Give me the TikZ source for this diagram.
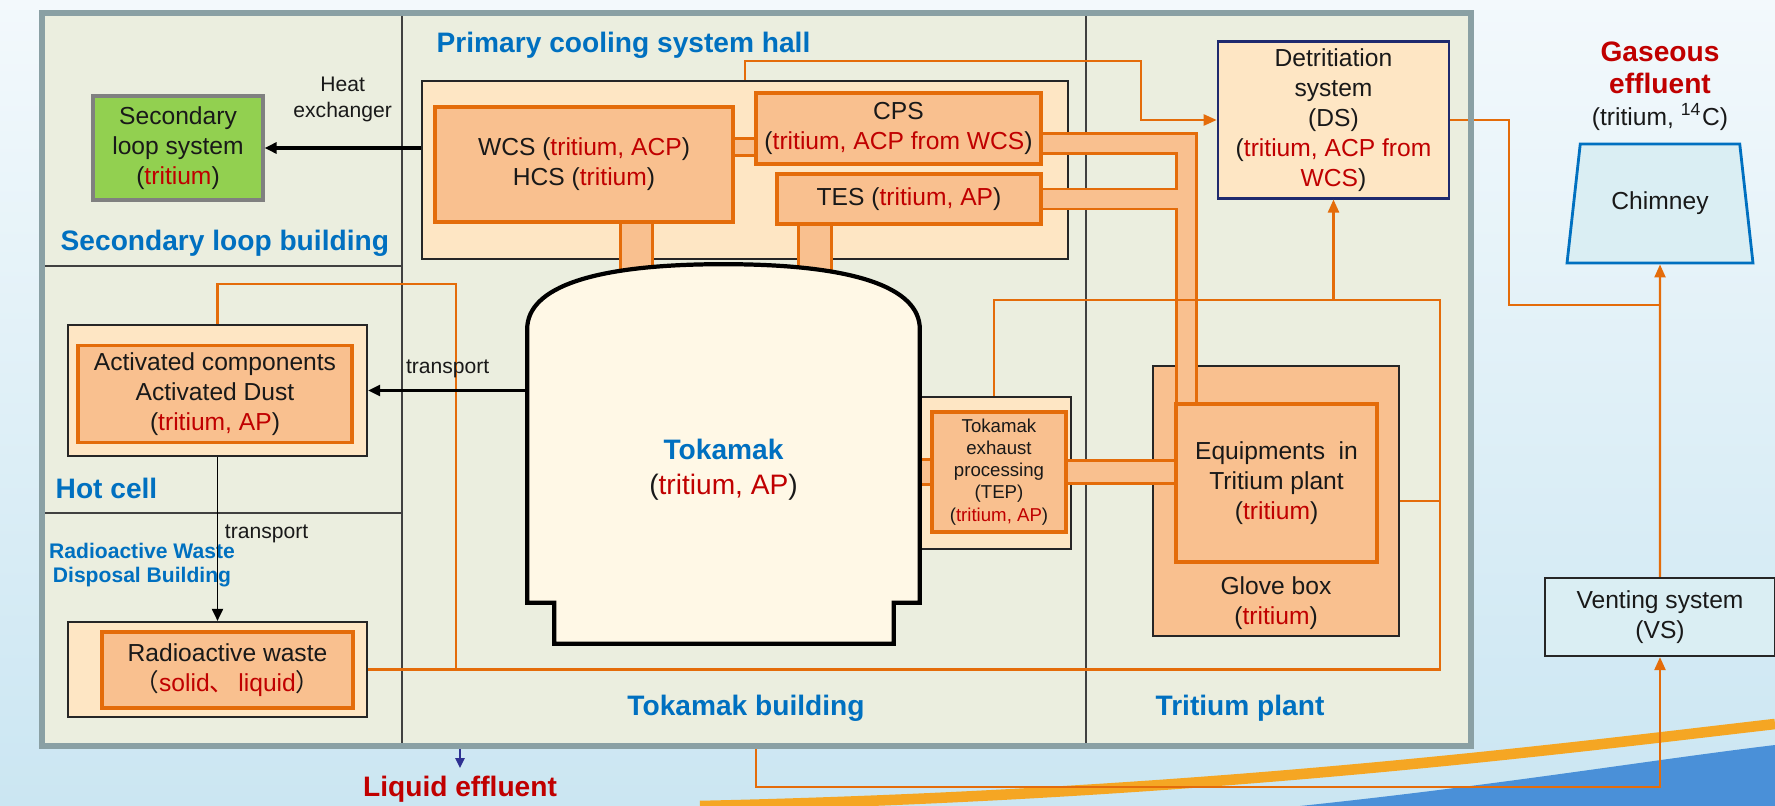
\documentclass[tikz,border=0pt]{standalone}
\usepackage{fontspec}
\setmainfont{Liberation Sans}
\newfontfamily\cjk{Noto Sans CJK SC}
\usepackage{xcolor}
\usepackage{tikz}
\usetikzlibrary{shapes.geometric, arrows.meta, positioning, calc}

\definecolor{zoneblue}{HTML}{0070C0}
\definecolor{tred}{HTML}{C00000}
\definecolor{halfill}{HTML}{EBEEDF}
\definecolor{rimgray}{HTML}{8AA0A4}
\definecolor{peach}{HTML}{FEE6C4}
\definecolor{orfill}{HTML}{F9C08F}
\definecolor{orline}{HTML}{E46C0A}
\definecolor{cream}{HTML}{FFF8E6}
\definecolor{leaf}{HTML}{92D050}
\definecolor{skyfill}{HTML}{DAEEF3}
\definecolor{dsnavy}{HTML}{1F2A6E}
\definecolor{liqnavy}{HTML}{2E3192}
\definecolor{skytop}{HTML}{F3F9FC}
\definecolor{skybot}{HTML}{CBE6F2}
\definecolor{swblue}{HTML}{4A90D8}
\definecolor{swor}{HTML}{F5A623}

\pgfdeclarelayer{bg}
\pgfdeclarelayer{pipes}
\pgfsetlayers{bg,pipes,main}

\newcommand{\rd}[1]{\textcolor{tred}{#1}}

\begin{document}
\begin{tikzpicture}[
    x=0.01cm, y=-0.01cm,
    every node/.style={font=\fontsize{7pt}{8.5pt}\selectfont, text=black!90, inner sep=2pt},
    zone/.style={font=\fontsize{8pt}{9.5pt}\selectfont\bfseries, text=zoneblue, inner sep=0pt},
    note/.style={font=\fontsize{6pt}{7.4pt}\selectfont, align=center, inner sep=1pt},
    hallbox/.style={rectangle, draw=black!85, line width=0.6pt, fill=peach},
    orbox/.style={rectangle, draw=orline, line width=1pt, fill=orfill, align=center},
    divider/.style={draw=black!75, line width=0.55pt},
    feed/.style={draw=orline, line width=0.65pt},
    feedarrow/.style={feed, -{Triangle[length=0.13cm, width=0.11cm]}},
    movearrow/.style={draw=black, line width=0.7pt, -{Triangle[length=0.12cm, width=0.11cm]}},
    pipe/.style={draw=orline, line width=0.8pt, double=orfill, double distance=#1},
    pipeedge/.style={draw=orline, line width=#1},
    pipecore/.style={draw=orfill, line width=#1}
]
    \useasboundingbox (0,0) rectangle (1775,806);

    % buildings
    \begin{pgfonlayer}{bg}
        \shade[top color=skytop, bottom color=skybot] (0,0) rectangle (1775,806);
        \fill[swblue] (1300,806) .. controls (1500,785) and (1650,760) .. (1775,745) -- (1775,806) -- cycle;
        \draw[swor, line width=3pt] (700,806) .. controls (1200,795) and (1550,750) .. (1775,724);
        \node[fill=halfill, minimum width=14.27cm, minimum height=7.31cm, inner sep=0pt] (frame) at (756.5,379.5) {};
        \draw[divider] (402,14) -- (402,745);
        \draw[divider] (1086,14) -- (1086,745);
        \draw[divider] (43,266) -- (402,266);
        \draw[divider] (43,513) -- (402,513);
        \node[hallbox, minimum width=6.46cm, minimum height=1.78cm] (hall) at (745,170) {};
        \node[hallbox, minimum width=1.54cm, minimum height=1.52cm] (tepbox) at (994,473) {};
        \node[orbox, draw=black!85, line width=0.6pt, minimum width=2.46cm, minimum height=2.70cm] (gb) at (1276,501) {};
    \end{pgfonlayer}

    \node[zone, anchor=west] (lblhall) at (436,45) {Primary cooling system hall};
    \node[zone, anchor=west] (lblsec) at (60,243) {Secondary loop building};
    \node[zone, anchor=west] (lblhot) at (55,488) {Hot cell};
    \node[zone, font=\fontsize{6pt}{6.9pt}\selectfont\bfseries, align=center] (lblrw) at (142,565) {Radioactive Waste\\Disposal Building};
    \node[zone] (lbltok) at (746,708) {Tokamak building};
    \node[zone] (lbltp) at (1240,708) {Tritium plant};

    % systems
    \node[rectangle, draw=black!50, line width=0.9pt, fill=leaf, align=center, minimum width=1.70cm, minimum height=1.04cm] (sec) at (178,148) {Secondary\\loop system\\(\rd{tritium})};
    \node[orbox, minimum width=2.98cm, minimum height=1.15cm] (wcs) at (584,164.5) {WCS (\rd{tritium, ACP})\\HCS (\rd{tritium})};
    \node[orbox, minimum width=2.85cm, minimum height=0.71cm] (cps) at (898.5,128.5) {CPS\\(\rd{tritium, ACP from WCS})};
    \node[orbox, minimum width=2.64cm, minimum height=0.50cm] (tes) at (909,199) {TES (\rd{tritium, AP})};
    \node[rectangle, draw=dsnavy, line width=0.7pt, fill=peach, align=center, minimum width=2.31cm, minimum height=1.56cm] (ds) at (1333.5,120) {Detritiation\\system\\(DS)\\(\rd{tritium, ACP from}\\\rd{WCS})};
    \node[trapezium, trapezium angle=76, trapezium stretches=true, draw=zoneblue, line width=0.8pt, fill=skyfill, minimum width=1.86cm, minimum height=1.19cm] (chim) at (1660,203.5) {Chimney};
    \node[align=center, font=\fontsize{8pt}{9.2pt}\selectfont, above=0.04cm of chim.north] (gas) {{\bfseries\color{tred}Gaseous}\\{\bfseries\color{tred}effluent}\\{\fontsize{7pt}{9.2pt}\selectfont(tritium, \textsuperscript{14}C)}};
    \node[rectangle, draw=black!85, line width=0.6pt, fill=skyfill, align=center, minimum width=2.30cm, minimum height=0.78cm] (vs) at (1660,617) {Venting system\\(VS)};

    \node[hallbox, minimum width=2.99cm, minimum height=1.31cm] (act) at (217.5,390.5) {};
    \node[orbox, minimum width=2.74cm, minimum height=0.96cm] (actin) at (215,394) {Activated components\\Activated Dust\\(\rd{tritium, AP})};
    \node[hallbox, minimum width=2.99cm, minimum height=0.95cm] (waste) at (217.5,669.5) {};
    \node[orbox, minimum width=2.51cm, minimum height=0.76cm] (wastein) at (227.5,670) {Radioactive waste\\{\cjk （}\rd{solid{\cjk 、}\,liquid}{\cjk ）}};

    \node[minimum width=3.91cm, minimum height=2.64cm, inner sep=0pt] (tok) at (723.5,470) {};
    \node[orbox, font=\fontsize{5.3pt}{6.3pt}\selectfont, minimum width=1.34cm, minimum height=1.20cm] (tep) at (999,472) {Tokamak\\exhaust\\processing\\(TEP)\\(\rd{tritium, AP})};
    \node[orbox, minimum width=2.01cm, minimum height=1.58cm] (eq) at (1276.5,483) {Equipments\ \ in\\Tritium plant\\(\rd{tritium})};
    \node[align=center, above=0cm of gb.south] (gbtext) {Glove box\\(\rd{tritium})};

    % pipes
    \begin{pgfonlayer}{pipes}
        \coordinate (wcsdown) at ([xshift=0.525cm]wcs.south);
        \coordinate (tesdown) at ([xshift=-0.94cm]tes.south);
        \coordinate (cpsin) at ([yshift=-0.185cm]cps.west);
        \coordinate (cpsout) at ([yshift=-0.15cm]cps.east);
        \coordinate (drop) at ([xshift=0.125cm]eq.north west);
        \draw[pipe=8.4pt] (wcsdown) -- (wcsdown |- tok.north);
        \draw[pipe=8.6pt] (tesdown) -- (tesdown |- tok.north);
        \draw[pipe=4.1pt] (cpsin) -- (cpsin -| wcs.east);
        \draw[pipeedge=6.5pt] (cpsout) -| (drop);
        \draw[pipeedge=6.5pt] (tes.east) -- (tes.east -| drop);
        \draw[pipecore=4.9pt] (cpsout) -| (drop);
        \draw[pipecore=4.9pt] (tes.east) -- (tes.east -| drop);
        \draw[pipe=5.8pt] (tep.east) -- (tep.east -| eq.west);
        \draw[pipe=6.1pt] (tok.east |- tep.west) -- (tep.west);
    \end{pgfonlayer}

    % tokamak vessel
    \draw[fill=cream, draw=black, line width=1.2pt] (tok.south west) -- ([yshift=0.08cm]tok.north west)
        .. controls ([yshift=0.5cm]tok.north west) and ([xshift=-1.3cm,yshift=0.73cm]tok.north) .. ([yshift=0.73cm]tok.north)
        .. controls ([xshift=1.3cm,yshift=0.73cm]tok.north) and ([yshift=0.5cm]tok.north east) .. ([yshift=0.08cm]tok.north east)
        -- (tok.south east) -- ([xshift=-0.26cm]tok.south east) -- ([xshift=-0.26cm,yshift=-0.41cm]tok.south east)
        -- ([xshift=0.27cm,yshift=-0.41cm]tok.south west) -- ([xshift=0.27cm]tok.south west) -- cycle;
    \node[align=center, font=\fontsize{8pt}{10pt}\selectfont] (toktext) at (tok.center) {{\bfseries\color{zoneblue}Tokamak}\\(\rd{tritium, AP})};

    % flows
    \coordinate (dsin) at ([xshift=-0.76cm]ds.west);
    \coordinate (gjoin) at ($(chim.south)!0.13!(vs.north)$);
    \coordinate (tbout) at (756,745);
    \coordinate (hcr) at (456,284);
    \coordinate (tpr) at (1440,300);
    \coordinate (tpb) at (tpr |- waste.east);
    \draw[feedarrow] (hall.north) -- ++(0,0.19cm) -| (dsin) -- (ds.west);
    \draw[feed] (ds.east) -- ++(0.59cm,0) |- (gjoin);
    \draw[feedarrow] (vs.north) -- (chim.south);
    \draw[feedarrow] (tbout) -- ++(0,-0.42cm) -| (vs.south);
    \draw[feed] (act.north) |- (hcr) -- (hcr |- waste.east);
    \draw[feed] (tepbox.north) |- (tpr) -- (tpb) -- (waste.east);
    \draw[feed] (gb.east) -- (gb.east -| tpr);
    \draw[feedarrow] (ds.south |- tpr) -- (ds.south);

    \draw[movearrow, line width=1.2pt] (hall.west |- sec.east) -- node[note, above=0.2cm]{Heat\\exchanger} (sec.east);
    \draw[movearrow] (tok.west |- act.east) -- node[note, above=0.08cm]{transport} (act.east);
    \draw[movearrow, line width=0.55pt] (act.south) -- node[note, right=0.03cm, pos=0.47]{transport} (waste.north);

    \node[font=\fontsize{8pt}{9.5pt}\selectfont\bfseries, text=tred] (liq) at (460,789) {Liquid effluent};
    \draw[draw=liqnavy, line width=0.6pt, -{Triangle[length=0.1cm, width=0.09cm]}] (liq.north |- frame.south) -- (liq.north);

    \draw[rimgray, line width=1.7pt] (frame.north west) rectangle (frame.south east);
\end{tikzpicture}
\end{document}
